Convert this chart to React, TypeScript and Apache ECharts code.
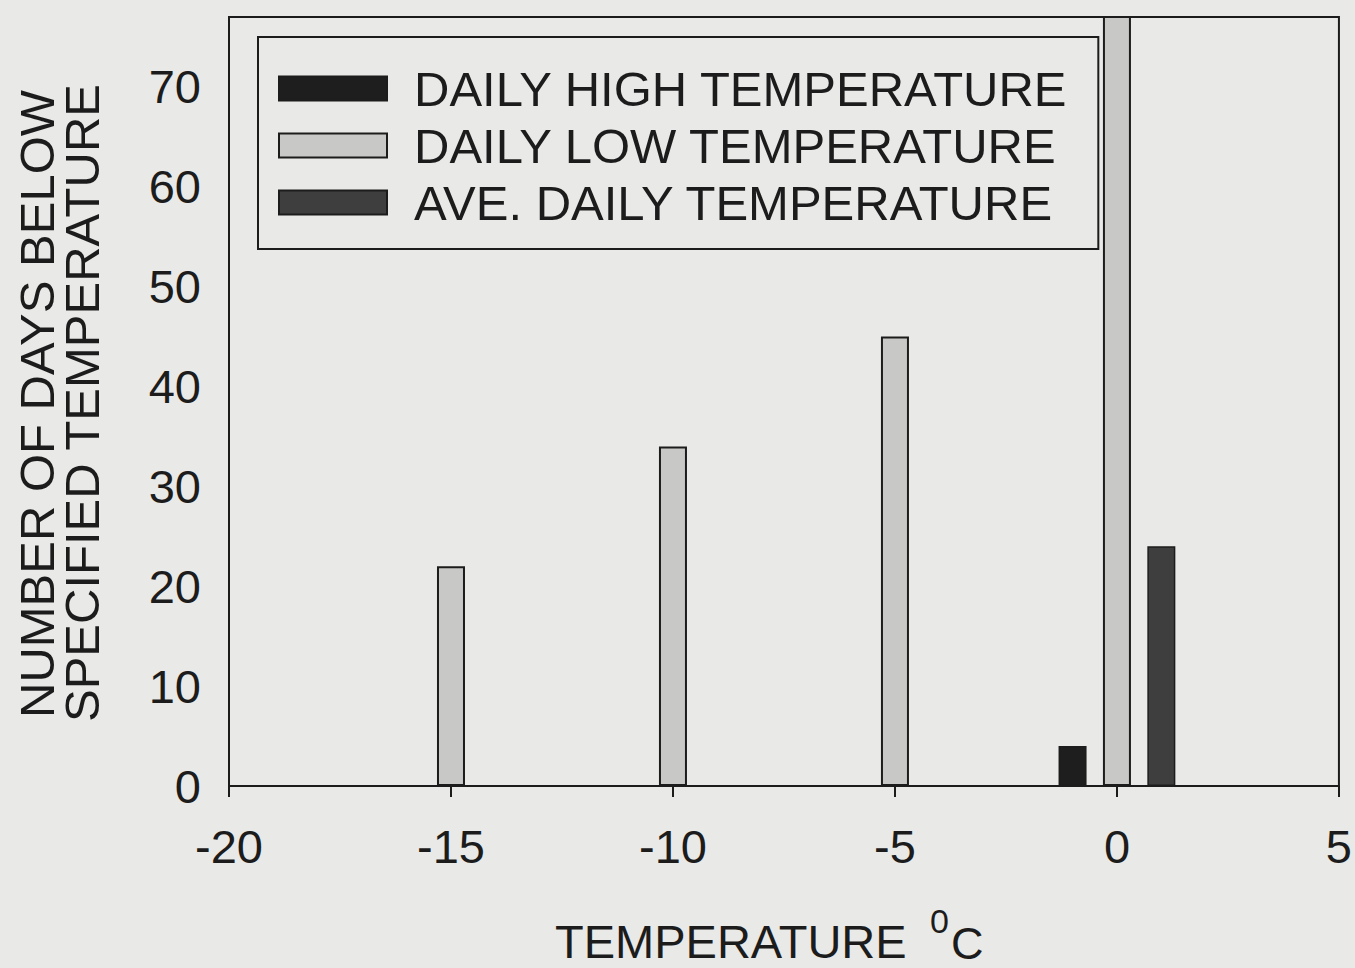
import React, { useEffect, useRef } from "react";
import * as echarts from "echarts";

const seriesNames = ["DAILY HIGH TEMPERATURE", "DAILY LOW TEMPERATURE", "AVE. DAILY TEMPERATURE"];
// [temperature °C, number of days]
const dailyHigh = [[-1, 4]];
const dailyLow = [[-15, 22], [-10, 34], [-5, 45], [0, 80]];
const aveDaily = [[1, 24]];
const xTicks = [-20, -15, -10, -5, 0, 5];
const yTicks = [0, 10, 20, 30, 40, 50, 60, 70];

const FONT = '"Liberation Sans", Arial, sans-serif';
const INK = "#1c1c1c";
const BG = "#e9e9e7";

export default function App() {
  const ref = useRef<HTMLDivElement>(null);
  useEffect(() => {
    if (!ref.current) return;
    const chart = echarts.init(ref.current, null, { renderer: "svg" });
    const barBase = {
      type: "bar",
      barWidth: 28,
      barGap: "-100%",
      clip: true,
    };
    const txt = (text: string, x: number, y: number, size: number, extra: any = {}) => ({
      type: "text",
      x,
      y,
      ...extra,
      style: {
        text,
        fontSize: size,
        fontFamily: FONT,
        fill: INK,
        lineHeight: size,
        align: extra.align || "left",
        verticalAlign: "middle",
        textAlign: extra.align || "left",
        textVerticalAlign: "middle",
      },
    });
    chart.setOption({
      animation: false,
      backgroundColor: BG,
      grid: {
        left: 229,
        right: 14,
        top: 17,
        bottom: 182,
        show: true,
        borderColor: INK,
        borderWidth: 2,
        backgroundColor: "transparent",
      },
      xAxis: {
        type: "value",
        min: xTicks[0],
        max: xTicks[xTicks.length - 1],
        interval: 5,
        axisLine: { show: true, onZero: false, lineStyle: { color: INK, width: 2 } },
        axisTick: { show: true, length: 11, lineStyle: { color: INK, width: 2 } },
        splitLine: { show: false },
        axisLabel: { fontSize: 47, color: INK, fontFamily: FONT, margin: 37 },
      },
      yAxis: {
        type: "value",
        min: yTicks[0],
        max: 77,
        interval: 10,
        axisLine: { show: true, lineStyle: { color: INK, width: 2 } },
        axisTick: { show: true, length: 10, lineStyle: { color: INK, width: 2 } },
        splitLine: { show: false },
        axisLabel: { fontSize: 47, color: INK, fontFamily: FONT, margin: 28, showMaxLabel: false },
      },
      legend: {
        orient: "vertical",
        left: 258,
        top: 37,
        padding: [27, 30, 22, 20],
        itemWidth: 108,
        itemHeight: 24,
        itemGap: 8,
        icon: "rect",
        borderColor: INK,
        borderWidth: 2,
        backgroundColor: "transparent",
        textStyle: { fontSize: 49, color: INK, fontFamily: FONT, lineHeight: 49, padding: [0, 0, 0, 22] },
        data: seriesNames,
      },
      graphic: [
        txt("NUMBER OF DAYS BELOW", 37, 404, 49, { rotation: Math.PI / 2, align: "center" }),
        txt("SPECIFIED TEMPERATURE", 82, 403, 49, { rotation: Math.PI / 2, align: "center" }),
        txt("TEMPERATURE", 555, 941, 47),
        txt("0", 930, 921, 34),
        txt("C", 951, 943, 45),
      ],
      series: [
        {
          ...barBase,
          name: seriesNames[0],
          data: dailyHigh,
          itemStyle: { color: "#1e1e1e", borderColor: INK, borderWidth: 1.5 },
        },
        {
          ...barBase,
          name: seriesNames[1],
          data: dailyLow,
          itemStyle: { color: "#c8c8c6", borderColor: INK, borderWidth: 2 },
        },
        {
          ...barBase,
          name: seriesNames[2],
          data: aveDaily,
          itemStyle: { color: "#3e3e3e", borderColor: INK, borderWidth: 1.5 },
        },
      ],
    });
    return () => chart.dispose();
  }, []);
  return (
    <div
      ref={ref}
      style={{ position: "fixed", left: 0, top: 0, width: 1355, height: 968 }}
    />
  );
}
